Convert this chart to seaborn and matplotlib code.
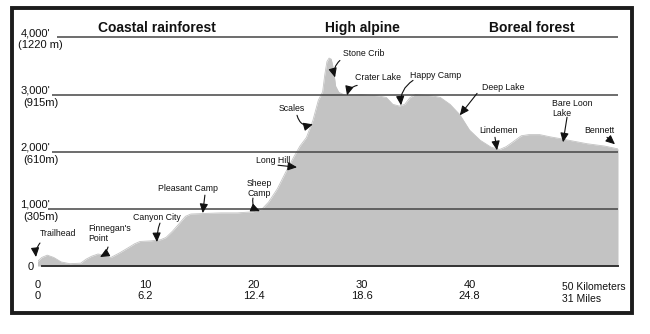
import matplotlib
matplotlib.use("Agg")
import matplotlib.pyplot as plt
from matplotlib.patches import Rectangle
import numpy as np
import pandas as pd
import seaborn as sns

# ---------------- data ----------------
distance_km = [0.0, 0.4, 0.9, 1.5, 2.2, 3.0, 4.0, 4.5, 5.0, 5.6, 6.2, 6.8, 7.6, 8.4, 9.0,
               9.5, 10.5, 11.4, 11.9, 12.5, 13.2, 13.7, 14.2, 15.5, 17.0, 18.5, 20.0,
               20.8, 21.4, 22.2, 23.0, 23.7, 24.3, 24.9, 25.5, 26.0, 26.4, 26.6, 26.8,
               27.0, 27.2, 27.4, 27.6, 27.9, 28.5, 30.0, 31.5, 32.3, 32.9, 33.5, 34.0,
               34.5, 35.0, 36.5, 37.3, 38.2, 39.1, 40.0, 41.0, 42.0, 42.8, 43.4, 44.0,
               44.8, 45.5, 46.5, 47.5, 48.4, 49.5, 50.9, 52.5, 53.75]
elevation_ft = [80, 150, 190, 150, 70, 40, 50, 120, 170, 210, 190, 150, 230, 320, 390,
                430, 440, 460, 500, 610, 760, 870, 910, 920, 930, 930, 950,
                1000, 1120, 1350, 1650, 1900, 2100, 2250, 2550, 2900, 3050, 3350, 3580,
                3640, 3620, 3450, 3150, 3040, 2990, 3000, 2980, 2950, 2830, 2800, 2830,
                2950, 3000, 2980, 2950, 2830, 2650, 2380, 2200, 2080, 2040, 2090, 2170,
                2280, 2300, 2300, 2260, 2230, 2190, 2140, 2100, 2050]

grid_levels_ft = [1000, 2000, 3000, 4000]
grid_start_km = [0.97, 1.3, 1.35, 1.8]
grid_labels_ft = ["1,000'", "2,000'", "3,000'", "4,000'"]
grid_labels_m = ["(305m)", "(610m)", "(915m)", "(1220 m)"]

km_ticks = [0, 10, 20, 30, 40, 50]
km_labels = ["0", "10", "20", "30", "40", "50 Kilometers"]
mile_labels = ["0", "6.2", "12.4", "18.6", "24.8", "31 Miles"]

zones = ["Coastal rainforest", "High alpine", "Boreal forest"]
zone_center_km = [11.07, 30.1, 45.76]

# landmark: label, text x, text y, ha, arrow tail (x, y), arrow head (x, y), curvature
places = ["Trailhead", "Finnegan's\nPoint", "Canyon City", "Pleasant Camp", "Sheep\nCamp",
          "Long Hill", "Scales", "Stone Crib", "Crater Lake", "Happy Camp", "Deep Lake",
          "Lindemen", "Bare Loon\nLake", "Bennett"]
place_x = [0.23, 4.68, 11.06, 13.89, 19.4, 20.2, 23.5, 30.2, 31.5, 36.9, 43.15, 42.73, 47.64, 52.0]
place_y = [576, 576, 856, 1362, 1362, 1852, 2760, 3720, 3301, 3336, 3127, 2376, 2751, 2376]
place_ha = ["left", "left", "center", "center", "left", "left", "center", "center", "center",
            "center", "center", "center", "left", "center"]
tail_x = [0.23, 6.53, 11.34, 15.5, 19.95, 22.27, 24.03, 28.0, 29.6, 34.77, 40.7, 42.36, 49.03, 52.73]
tail_y = [402, 332, 751, 1240, 1188, 1764, 2638, 3598, 3162, 3249, 3022, 2253, 2603, 2253]
head_x = [-0.14, 5.79, 11.06, 15.3, 20.6, 24.03, 25.5, 27.55, 28.66, 33.66, 39.1, 42.55, 48.66, 53.47]
head_y = [157, 157, 419, 926, 960, 1729, 2480, 3301, 2987, 2812, 2638, 2026, 2166, 2131]
arrow_rad = [0.2, -0.2, 0.1, 0.0, 0.4, 0.0, 0.5, 0.3, 0.3, 0.3, 0.0, 0.0, 0.0, 0.0]

# ---------------- style ----------------
sns.set_style("white")
plt.rcParams["font.family"] = ["Liberation Sans", "DejaVu Sans"]

fill_color = "#c3c3c3"
line_color = "#454545"
text_color = "#111111"

fig = plt.figure(figsize=(6.5, 3.34), dpi=100)
fig.patches.append(Rectangle((12 / 650, 21 / 334), 620 / 650, 305 / 334,
                             transform=fig.transFigure, fill=False,
                             edgecolor="#1c1c1c", linewidth=2.8, zorder=0))
ax = fig.add_axes([37.5 / 650, 68 / 334, 580.5 / 650, 228.5 / 334])
ax.set_facecolor("none")

df = pd.DataFrame({"km": distance_km, "ft": elevation_ft})
ax.fill_between(df["km"], df["ft"], 0, color=fill_color, linewidth=0, zorder=1)
sns.lineplot(data=df, x="km", y="ft", ax=ax, color=fill_color, linewidth=0.6,
             zorder=1.5, legend=False)

ax.set_xlim(0, 53.75)
ax.set_ylim(0, 4000)

for lvl, start, lf, lm in zip(grid_levels_ft, grid_start_km, grid_labels_ft, grid_labels_m):
    ax.plot([start, 53.75], [lvl, lvl], color=line_color, linewidth=1.1, zorder=3,
            clip_on=False, solid_capstyle="butt")
    ax.text(-0.2, lvl + 70, lf, ha="center", va="center", fontsize=8, color=text_color)
    ax.text(0.3, lvl - 140, lm, ha="center", va="center", fontsize=8, color=text_color)
ax.text(-0.65, -17, "0", ha="center", va="center", fontsize=8, color=text_color)

for name, cx in zip(zones, zone_center_km):
    ax.text(cx, 4170, name, ha="center", va="center", fontsize=10, fontweight="bold",
            color=text_color)

# axis
for side in ["left", "right", "top"]:
    ax.spines[side].set_visible(False)
ax.spines["bottom"].set_bounds(0.4, 53.75)
ax.spines["bottom"].set_color("#333333")
ax.spines["bottom"].set_linewidth(1.4)
ax.spines["bottom"].set_zorder(4)
ax.set_yticks([])
ax.set_xticks(km_ticks)
ax.set_xticklabels([f"{k}\n{m}" for k, m in zip(km_labels[:-1], mile_labels[:-1])] + [""],
                   linespacing=1.15)
ax.tick_params(axis="x", direction="out", length=6, width=1, color="#333333", pad=4,
               labelsize=8, labelcolor=text_color)
ax.set_xlabel("")
ax.set_ylabel("")
ax.text(48.6, -470, km_labels[-1] + "\n" + mile_labels[-1], ha="left", va="center",
        fontsize=7.5, linespacing=1.3, color=text_color)

# landmarks
for name, x, y, ha, tx, ty, hx, hy, rad in zip(places, place_x, place_y, place_ha,
                                               tail_x, tail_y, head_x, head_y, arrow_rad):
    ax.text(x, y, name, ha=ha, va="center", fontsize=6.3, color=text_color,
            linespacing=1.15, zorder=5)
    ax.annotate("", xy=(hx, hy), xytext=(tx, ty), zorder=5, annotation_clip=False,
                arrowprops=dict(arrowstyle="-|>,head_length=0.55,head_width=0.25",
                                color="#111111", lw=0.8, shrinkA=0, shrinkB=0,
                                connectionstyle=f"arc3,rad={rad}"))

fig.savefig("out.png", dpi=100)
